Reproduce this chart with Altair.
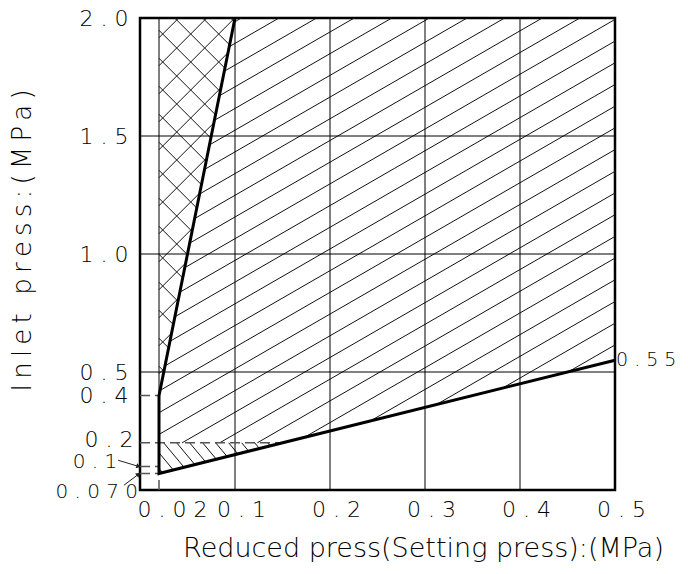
import math
import altair as alt
import pandas as pd

# ---------------- data ----------------
X_MAX = 0.5
Y_MAX = 2.0
W, H = 475, 472

# thick boundary of the working range (reduced press, inlet press)
bound_x = [0.1, 0.02, 0.02, 0.5]
bound_y = [2.0, 0.4, 0.07, 0.55]

# axis ticks
x_ticks = [0.02, 0.1, 0.2, 0.3, 0.4, 0.5]
y_ticks = [0.2, 0.4, 0.5, 1.0, 1.5, 2.0]

# grid lines
grid_x = [0.1, 0.2, 0.3, 0.4]
grid_y = [0.5, 1.0, 1.5]

# reference levels
set_min = 0.02      # minimum setting press
in_min = 0.07       # minimum inlet press
in_01 = 0.1
in_02 = 0.2
in_04 = 0.4
end_label = "0.55"

x_title = "Reduced press(Setting press):(MPa)"
y_title = "Inlet press:(MPa)"

FONT = "DejaVu Sans"
TXT = "#000"


def spaced(s):
    return " ".join(list(s))


# x where the lower boundary reaches 0.2 MPa
x02 = bound_x[2] + (in_02 - bound_y[2]) * (bound_x[3] - bound_x[2]) / (bound_y[3] - bound_y[2])

# hatch regions (polygons in data space)
cross_poly = [(set_min, in_04), (set_min, Y_MAX), (bound_x[0], bound_y[0])]
slash_poly = [(set_min, in_02), (set_min, in_04), (bound_x[0], bound_y[0]),
              (X_MAX, Y_MAX), (bound_x[3], bound_y[3]), (x02, in_02)]
back_poly = [(set_min, in_min), (set_min, in_02), (x02, in_02)]


def to_px(x, y):
    return x / X_MAX * W, (Y_MAX - y) / Y_MAX * H


def to_data(px, py):
    return px / W * X_MAX, Y_MAX - py / H * Y_MAX


def hatch(poly, slope, spacing, phase):
    pts = [to_px(x, y) for x, y in poly]
    g = [py - slope * px for px, py in pts]
    cmin, cmax = min(g), max(g)
    k = math.ceil((cmin - phase) / spacing)
    c = phase + k * spacing
    rows = []
    n = len(pts)
    while c < cmax:
        inter = []
        for i in range(n):
            P, Q = pts[i], pts[(i + 1) % n]
            fP = P[1] - slope * P[0] - c
            fQ = Q[1] - slope * Q[0] - c
            if fP == fQ:
                continue
            t = fP / (fP - fQ)
            if 0 <= t <= 1:
                inter.append((P[0] + t * (Q[0] - P[0]), P[1] + t * (Q[1] - P[1])))
        if len(inter) >= 2:
            inter.sort()
            a, b = inter[0], inter[-1]
            if math.hypot(b[0] - a[0], b[1] - a[1]) > 0.8:
                x1, y1 = to_data(*a)
                x2, y2 = to_data(*b)
                rows.append({"x": x1, "y": y1, "x2": x2, "y2": y2})
        c += spacing
    return rows


hatch_rows = (hatch(slash_poly, -0.577, 21.7, 15.1)
              + hatch(cross_poly, 1.0, 28.0, 21.3)
              + hatch(cross_poly, -1.0, 28.0, 10.7)
              + hatch(back_poly, 1.2, 15.6, 6.4))
hatch_df = pd.DataFrame(hatch_rows)

grid_df = pd.DataFrame(
    [{"x": gx, "y": 0.0, "x2": gx, "y2": Y_MAX} for gx in grid_x]
    + [{"x": 0.0, "y": gy, "x2": X_MAX, "y2": gy} for gy in grid_y]
    + [{"x": set_min, "y": in_04, "x2": set_min, "y2": Y_MAX}]
)

dash_df = pd.DataFrame([
    {"x": 0.0, "y": in_min, "x2": set_min, "y2": in_min},
    {"x": 0.0, "y": in_01, "x2": set_min, "y2": in_01},
    {"x": 0.0, "y": in_04, "x2": set_min, "y2": in_04},
    {"x": 0.0, "y": in_02, "x2": x02, "y2": in_02},
    {"x": set_min, "y": 0.0, "x2": set_min, "y2": in_min},
])

bound_df = pd.DataFrame({"x": bound_x, "y": bound_y, "o": list(range(len(bound_x)))})

# annotations outside the frame
ann_df = pd.DataFrame([
    {"x": -0.024, "y": 0.12, "t": spaced("0.1")},
    {"x": -0.002, "y": -0.008, "t": spaced("0.070")},
])
end_df = pd.DataFrame([{"x": bound_x[3], "y": bound_y[3], "t": spaced(end_label)}])

arrow_df = pd.DataFrame([
    {"x": -0.023, "y": 0.126, "x2": -0.0015, "y2": in_01},
    {"x": -0.017, "y": 0.02, "x2": -0.0015, "y2": in_min - 0.003},
])
heads = []
for _, r in arrow_df.iterrows():
    p1 = to_px(r["x"], r["y"])
    p2 = to_px(r["x2"], r["y2"])
    ang = math.degrees(math.atan2(p2[1] - p1[1], p2[0] - p1[0])) % 360
    heads.append({"x": r["x2"], "y": r["y2"], "a": ang})
head_df = pd.DataFrame(heads)

# ---------------- chart ----------------
xs = alt.Scale(domain=[0, X_MAX], nice=False, zero=False)
ys = alt.Scale(domain=[0, Y_MAX], nice=False, zero=False)

x_axis = alt.Axis(
    values=x_ticks, format=".2~f",
    labelExpr="join(split(datum.label, ''), ' ')",
    ticks=False, tickSize=0, domain=False, grid=False,
    labelFont=FONT, labelFontSize=22, labelColor=TXT, labelFontWeight=200,
    labelPadding=9, labelOverlap=False, labelFlush=False,
    labelAlign=alt.condition("datum.value == 0.02", alt.value("left"), alt.value("center")),
    labelOffset=alt.condition("datum.value == 0.02", alt.value(-22), alt.value(6)),
    title=x_title, titleFont=FONT, titleFontSize=27, titleFontWeight=200, titleColor=TXT,
    titleX=283, titleY=58, titleAlign="center", titleBaseline="middle",
)
y_axis = alt.Axis(
    values=y_ticks, format=".1f",
    labelExpr="join(split(datum.label, ''), ' ')",
    ticks=False, tickSize=0, domain=False, grid=False,
    labelFont=FONT, labelFontSize=22, labelColor=TXT, labelFontWeight=200,
    labelOverlap=False, labelFlush=False,
    labelPadding=alt.condition("datum.value == 0.2", alt.value(7), alt.value(12)),
    labelOffset=alt.condition("datum.value == 0.2", alt.value(-3), alt.value(0)),
    title="\u2009".join(list(y_title)), titleFont=FONT, titleFontSize=26, titleFontWeight=200,
    titleColor=TXT, titleAngle=270, titleX=-118, titleY=222,
    titleAlign="center", titleBaseline="middle",
)

X = alt.X("x:Q", scale=xs, axis=x_axis)
Y = alt.Y("y:Q", scale=ys, axis=y_axis)

hatch_layer = alt.Chart(hatch_df).mark_rule(color="#111", strokeWidth=1).encode(
    x=X, y=Y, x2="x2:Q", y2="y2:Q",
)
grid_layer = alt.Chart(grid_df).mark_rule(color="#000", strokeWidth=1).encode(
    x=X, y=Y, x2="x2:Q", y2="y2:Q",
)
dash_layer = alt.Chart(dash_df).mark_rule(color="#555", strokeWidth=1.5, strokeDash=[10, 5]).encode(
    x=X, y=Y, x2="x2:Q", y2="y2:Q",
)
bound_layer = alt.Chart(bound_df).mark_line(color="#000", strokeWidth=3, strokeJoin="miter").encode(
    x=X, y=Y, order="o:O",
)
ann_layer = alt.Chart(ann_df).mark_text(
    font=FONT, fontSize=20, fontWeight=200, color=TXT, align="right", baseline="middle"
).encode(x=X, y=Y, text="t:N")
end_layer = alt.Chart(end_df).mark_text(
    font=FONT, fontSize=19, fontWeight=200, color=TXT, align="left", baseline="middle", dx=1
).encode(x=X, y=Y, text="t:N")
arrow_layer = alt.Chart(arrow_df).mark_rule(color="#222", strokeWidth=1).encode(
    x=X, y=Y, x2="x2:Q", y2="y2:Q",
)
head_layer = alt.Chart(head_df).mark_point(
    shape="triangle-right", filled=True, size=28, color="#222", opacity=1
).encode(x=X, y=Y, angle=alt.Angle("a:Q", scale=None))

chart = alt.layer(
    hatch_layer, grid_layer, dash_layer, bound_layer,
    ann_layer, end_layer, arrow_layer, head_layer,
).properties(
    width=W, height=H, autosize="none",
    padding={"left": 132, "top": 10, "right": 64, "bottom": 74},
).configure_view(stroke="#000", strokeWidth=2.5)

chart.save("out.html", embed_options={"renderer": "svg", "actions": False})
